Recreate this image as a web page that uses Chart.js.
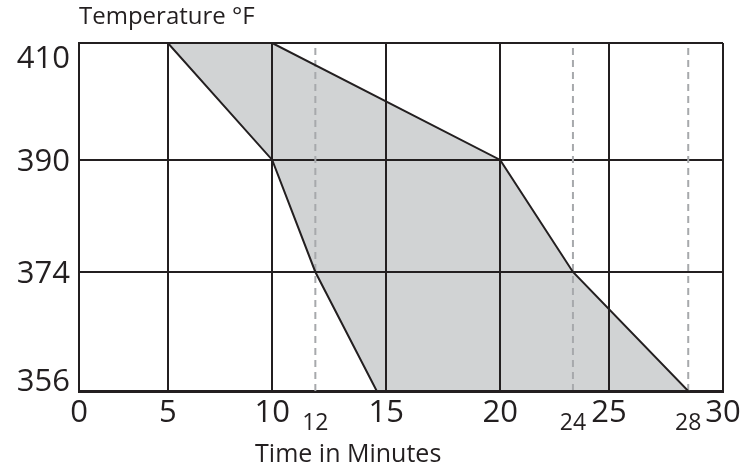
<!DOCTYPE html>
<html>
<head>
<meta charset="utf-8">
<script src="https://cdn.jsdelivr.net/npm/chart.js@4.4.1/dist/chart.umd.min.js"></script>
<style>
  html, body { margin: 0; background: #fff; }
  #wrap { width: 755px; height: 468px; }
</style>
</head>
<body>
<div id="wrap"><canvas id="cooling-chart"></canvas></div>
<script>
// tick values
const xTicks = [0, 5, 10, 15, 20, 25, 30];
const xMarks = [12, 24, 28];            // dashed guide lines with small labels
const yTicks = [356, 374, 390, 410];

// the shaded band: earliest and latest time for each temperature
const temps = [410, 390, 374, 356];
const earlyTime = [5, 10, 12, 14.6];
const lateTime = [10, 20, 24, 28];

const INK = '#231f20';
const FONT = '"Open Sans", Lato, sans-serif';

// the drawn axes are not evenly spaced, so the scale bends at each knot
class BentScale extends Chart.LinearScale {
  getPixelForValue(value) {
    const { knots, stops } = this.options;
    let i = 0;
    while (i < knots.length - 2 && value > knots[i + 1]) i++;
    const t = (value - knots[i]) / (knots[i + 1] - knots[i]);
    return this.getPixelForDecimal(stops[i] + t * (stops[i + 1] - stops[i]));
  }
  getValueForPixel(pixel) {
    const { knots, stops } = this.options;
    const d = this.getDecimalForPixel(pixel);
    let i = 0;
    while (i < stops.length - 2 && d > stops[i + 1]) i++;
    const t = (d - stops[i]) / (stops[i + 1] - stops[i]);
    return knots[i] + t * (knots[i + 1] - knots[i]);
  }
}
BentScale.id = 'bent';
BentScale.defaults = {};
Chart.register(BentScale);

const allX = [...xTicks, ...xMarks].sort((a, b) => a - b);
const band = earlyTime.map((x, i) => ({ x, y: temps[i] }))
  .concat(lateTime.map((x, i) => ({ x, y: temps[i] })).reverse());

const guides = xMarks.map(m => ({
  data: [{ x: m, y: yTicks[0] }, { x: m, y: yTicks[yTicks.length - 1] }],
  borderColor: '#a7a9ac',
  borderWidth: 2,
  borderDash: [7, 5],
  pointRadius: 0,
  showLine: true,
  fill: false
}));

// y labels and the x title are placed by hand like in the print
const textPlugin = {
  id: 'printText',
  afterDraw(chart) {
    const { ctx, chartArea: a, scales: { y } } = chart;
    ctx.save();
    ctx.fillStyle = INK;
    ctx.font = '31px ' + FONT;
    ctx.textAlign = 'right';
    ctx.textBaseline = 'alphabetic';
    yTicks.forEach(v => {
      const p = Math.min(Math.max(y.getPixelForValue(v), a.top + 14), a.bottom - 11);
      ctx.fillText(String(v), a.left - 9, p + 11);
    });
    ctx.font = '25px ' + FONT;
    ctx.textAlign = 'center';
    ctx.fillText('Time in Minutes', a.left + 0.418 * (a.right - a.left), 462);
    ctx.restore();
  }
};

new Chart(document.getElementById('cooling-chart'), {
  type: 'scatter',
  data: {
    datasets: [
      {
        data: band,
        borderColor: INK,
        borderWidth: 2,
        backgroundColor: '#d1d3d4',
        pointRadius: 0,
        showLine: true,
        tension: 0,
        fill: 'shape'
      },
      ...guides
    ]
  },
  options: {
    responsive: true,
    maintainAspectRatio: false,
    animation: false,
    layout: { padding: { left: 0, right: 32, top: 0, bottom: 0 } },
    plugins: {
      legend: { display: false },
      tooltip: { enabled: false },
      filler: { drawTime: 'beforeDraw' },
      title: {
        display: true,
        text: 'Temperature °F',
        align: 'start',
        fullSize: false,
        color: INK,
        font: { family: FONT, size: 24, weight: 'normal', lineHeight: 1.2 },
        padding: { top: 3, bottom: 11.2 }
      }
    },
    scales: {
      x: {
        type: 'bent',
        min: 0,
        max: 30,
        knots: [0, 5, 10, 12, 15, 20, 24, 25, 28, 30],
        stops: [0, 0.138, 0.300, 0.367, 0.477, 0.654, 0.767, 0.823, 0.946, 1],
        afterBuildTicks: s => { s.ticks = allX.map(v => ({ value: v })); },
        afterFit: s => { s.height = 77; },
        grid: {
          drawTicks: false,
          lineWidth: 2,
          color: c => (c.tick && xMarks.includes(c.tick.value)) ? 'rgba(0,0,0,0)' : INK
        },
        border: { color: INK, width: 3 },
        ticks: {
          padding: 4,
          autoSkip: false,
          maxRotation: 0,
          color: INK,
          callback: v => String(v),
          font: c => (c.tick && xMarks.includes(c.tick.value))
            ? { family: FONT, size: 23, lineHeight: '56px' }
            : { family: FONT, size: 31, lineHeight: 1.2 }
        }
      },
      y: {
        type: 'bent',
        min: 356,
        max: 410,
        knots: yTicks,
        stops: [0, 0.342, 0.664, 1],
        afterBuildTicks: s => { s.ticks = yTicks.map(v => ({ value: v })); },
        afterFit: s => { s.width = 79; },
        grid: { drawTicks: false, lineWidth: 2, color: INK },
        border: { color: INK, width: 2 },
        ticks: { display: false }
      }
    }
  },
  plugins: [textPlugin]
});
</script>
</body>
</html>
